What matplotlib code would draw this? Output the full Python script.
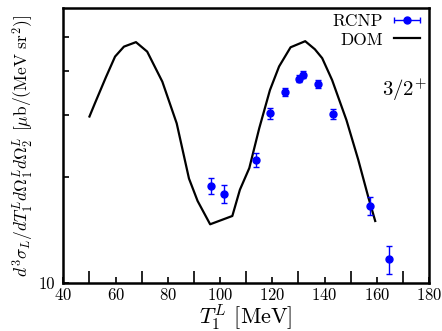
import numpy as np
import matplotlib
matplotlib.use("Agg")
import matplotlib.pyplot as plt
from matplotlib.ticker import FixedLocator, FixedFormatter, NullFormatter
from matplotlib.legend_handler import HandlerErrorbar

plt.rcParams["mathtext.fontset"] = "cm"
plt.rcParams["font.family"] = ["cmr10", "DejaVu Serif"]
plt.rcParams["axes.formatter.use_mathtext"] = True

# RCNP measurement
rcnp_T = [96.5, 101.4, 113.8, 119.3, 124.9, 130.4, 131.7, 137.4, 143.1, 157.4, 164.5]
rcnp_val = [18.9, 17.9, 22.4, 30.3, 34.8, 38.0, 39.0, 36.7, 30.2, 16.55, 11.67]
rcnp_err = [1.0, 1.05, 1.05, 1.1, 0.9, 0.9, 0.9, 0.9, 0.9, 1.0, 1.05]

# DOM calculation
dom_T = [50.0, 52.1, 56.3, 59.8, 63.2, 67.8, 72.1, 77.9, 83.4, 88.1, 91.4, 96.2,
         104.7, 107.6, 111.2, 115.0, 119.1, 122.6, 127.0, 132.6, 136.3, 139.1,
         142.9, 148.4, 152.9, 156.7, 159.4]
dom_val = [29.7, 32.4, 38.4, 43.95, 46.9, 48.3, 45.4, 37.3, 28.4, 19.8, 17.1, 14.68,
           15.5, 18.4, 21.2, 27.5, 35.3, 41.2, 46.7, 48.6, 46.1, 43.5,
           37.7, 29.0, 22.4, 17.6, 15.0]

x_major = [40, 60, 80, 100, 120, 140, 160, 180]
x_minor = [50, 70, 90, 110, 130, 150, 170]
y_ticks = [20, 30, 40, 50]

fig = plt.figure(figsize=(4.42, 3.31), dpi=100)
ax = fig.add_axes([0.1433, 0.145, 0.8273, 0.831])

dom_line, = ax.plot(dom_T, dom_val, color="black", lw=1.6, zorder=2)
ax.errorbar(rcnp_T, rcnp_val, yerr=rcnp_err, fmt="o", color="blue", ms=5,
            elinewidth=1.0, capsize=2.0, capthick=1.0, zorder=3)

# legend proxy with horizontal bar
rcnp_key = ax.errorbar([np.nan], [np.nan], xerr=[1], fmt="o", color="blue", ms=5,
                       elinewidth=1.0, capsize=2.0, capthick=1.0)

ax.set_yscale("log")
ax.set_xlim(40, 180)
ax.set_ylim(10, 60.4)

ax.xaxis.set_major_locator(FixedLocator(x_major))
ax.xaxis.set_minor_locator(FixedLocator(x_minor))
ax.yaxis.set_major_locator(FixedLocator([10]))
ax.yaxis.set_major_formatter(FixedFormatter(["10"]))
ax.yaxis.set_minor_locator(FixedLocator(y_ticks))
ax.yaxis.set_minor_formatter(NullFormatter())

ax.tick_params(axis="x", which="major", direction="in", length=4, width=1.2,
               labelsize=12, pad=3)
ax.tick_params(axis="x", which="minor", direction="in", length=9, width=1.2)
ax.tick_params(axis="y", which="both", direction="in", length=4, width=1.2,
               labelsize=12, pad=6)

for s in ax.spines.values():
    s.set_linewidth(1.8)

ax.set_xlabel(r"$T_1^L$ [MeV]", fontsize=16, labelpad=-1)
ax.set_ylabel(r"$d^3\sigma_L/dT_1^L d\Omega_1^L d\Omega_2^L$ [$\mu$b/(MeV sr$^2$)]",
              fontsize=12.5, labelpad=2)

ax.text(170.7, 35.3, r"$3/2^{+}$", fontsize=15, ha="center", va="center")

leg = ax.legend([rcnp_key, dom_line], ["RCNP", "DOM"], loc="upper right",
                bbox_to_anchor=(0.975, 0.98),
                handler_map={type(rcnp_key): HandlerErrorbar(xerr_size=0.75)},
                frameon=False, markerfirst=False, fontsize=12.5,
                handlelength=1.5, borderaxespad=0.0, borderpad=0.0,
                handletextpad=0.6, labelspacing=0.2)

fig.savefig("out.png", dpi=100)
